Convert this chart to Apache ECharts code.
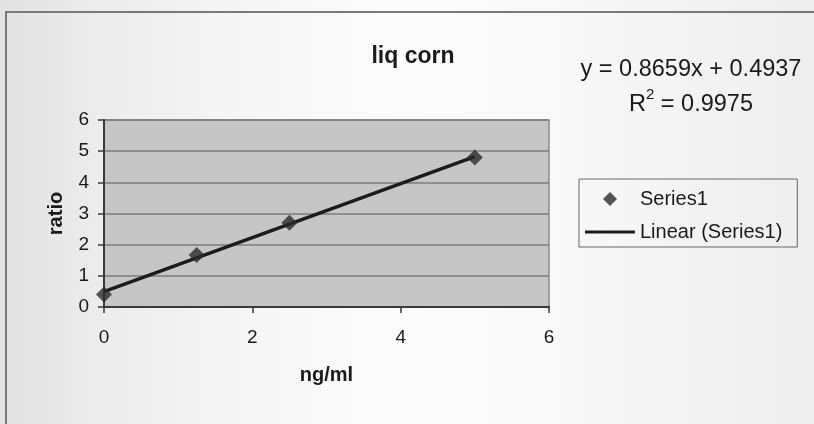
<!DOCTYPE html>
<html>
<head>
<meta charset="utf-8">
<script src="https://cdn.jsdelivr.net/npm/echarts@6/dist/echarts.min.js"></script>
<style>
  html, body { margin: 0; padding: 0; }
  body {
    width: 814px; height: 424px; overflow: hidden;
    background: linear-gradient(90deg, #e2e2e2 0%, #ececec 12%, #f6f6f6 30%, #fcfcfc 50%, #f8f8f8 70%, #eeeeee 100%);
  }
  #chart { width: 814px; height: 424px; }
</style>
</head>
<body>
<div id="chart"></div>
<script>
// ---- data ----
const chartTitle = 'liq corn';
const xAxisName = 'ng/ml';
const yAxisName = 'ratio';
const seriesName = 'Series1';
const trendName = 'Linear (Series1)';
const xValues = [0, 1.25, 2.5, 5];
const yValues = [0.4, 1.67, 2.7, 4.8];
const trendX = [0, 5];
const trendY = [0.4937, 4.8232];
const equationText = 'y = 0.8659x + 0.4937';
const r2Value = '0.9975';
const xRange = [0, 6, 2];
const yRange = [0, 6, 1];

const points = xValues.map((x, i) => [x, yValues[i]]);
const trendPoints = trendX.map((x, i) => [x, trendY[i]]);

const chart = echarts.init(document.getElementById('chart'), null, { renderer: 'canvas' });
const font = 'Liberation Sans, Arial, sans-serif';
const ink = '#1a1a1a';
chart.setOption({
  backgroundColor: 'transparent',
  animation: false,
  graphic: [{
    type: 'rect',
    shape: { x: 6, y: 12, width: 830, height: 440 },
    style: { fill: 'none', stroke: '#7a7a7a', lineWidth: 2 },
    silent: true, z: -10
  }],
  title: [{
    text: chartTitle,
    left: 408, top: 40, textAlign: 'center',
    textStyle: { fontFamily: font, fontSize: 23, fontWeight: 'bold', color: ink }
  }, {
    text: equationText + '\n{r|R}{sup|2}{r| = ' + r2Value + '}',
    left: 686, top: 47, textAlign: 'center',
    textStyle: {
      fontFamily: font, fontSize: 23.5, fontWeight: 'normal', color: ink, lineHeight: 35,
      rich: {
        r: { fontFamily: font, fontSize: 23.5, color: ink },
        sup: { fontFamily: font, fontSize: 15, color: ink, verticalAlign: 'top', lineHeight: 35, padding: [0, 0, 14, 0] }
      }
    }
  }],
  legend: {
    orient: 'vertical',
    left: 579, top: 179,
    padding: [10, 15, 5, 6],
    itemGap: 13,
    itemWidth: 50, itemHeight: 14,
    symbolKeepAspect: true,
    borderColor: '#666', borderWidth: 1,
    selectedMode: false,
    textStyle: { fontFamily: font, fontSize: 20, color: ink, lineHeight: 20 },
    data: [
      { name: seriesName, icon: 'path://M7,0 L14,7 L7,14 L0,7 Z' },
      { name: trendName, icon: 'path://M0,0 L50,0 L50,3 L0,3 Z' }
    ]
  },
  grid: {
    left: 104, right: 265, top: 120, bottom: 117,
    show: true, backgroundColor: '#c6c6c6', borderColor: '#8a8a8a', borderWidth: 1.5
  },
  xAxis: {
    type: 'value', min: xRange[0], max: xRange[1], interval: xRange[2],
    name: xAxisName, nameLocation: 'middle', nameGap: 58,
    nameTextStyle: { fontFamily: font, fontSize: 20, fontWeight: 'bold', color: ink },
    axisLine: { show: true, lineStyle: { color: '#3a3a3a', width: 2 } },
    axisTick: { show: true, length: 6, lineStyle: { color: '#3a3a3a', width: 1.5 } },
    axisLabel: { margin: 21, fontFamily: font, fontSize: 19, color: ink },
    splitLine: { show: false }
  },
  yAxis: {
    type: 'value', min: yRange[0], max: yRange[1], interval: yRange[2],
    name: yAxisName, nameLocation: 'middle', nameGap: 38, nameRotate: 90,
    nameTextStyle: { fontFamily: font, fontSize: 20, fontWeight: 'bold', color: ink },
    axisLine: { show: true, lineStyle: { color: '#3a3a3a', width: 2 } },
    axisTick: { show: true, length: 6, lineStyle: { color: '#3a3a3a', width: 1.5 } },
    axisLabel: { margin: 15, fontFamily: font, fontSize: 19, color: ink },
    splitLine: { show: true, lineStyle: { color: '#7c7c7c', width: 1.5 } }
  },
  series: [{
    name: trendName,
    type: 'line',
    data: trendPoints,
    showSymbol: false,
    symbol: 'none',
    color: '#1c1c1c',
    lineStyle: { color: '#1c1c1c', width: 3.5 },
    z: 2
  }, {
    name: seriesName,
    type: 'scatter',
    data: points,
    symbol: 'diamond',
    symbolSize: 16,
    color: '#2a2a2a',
    itemStyle: { color: '#2a2a2a' },
    z: 3
  }]
});
</script>
</body>
</html>
